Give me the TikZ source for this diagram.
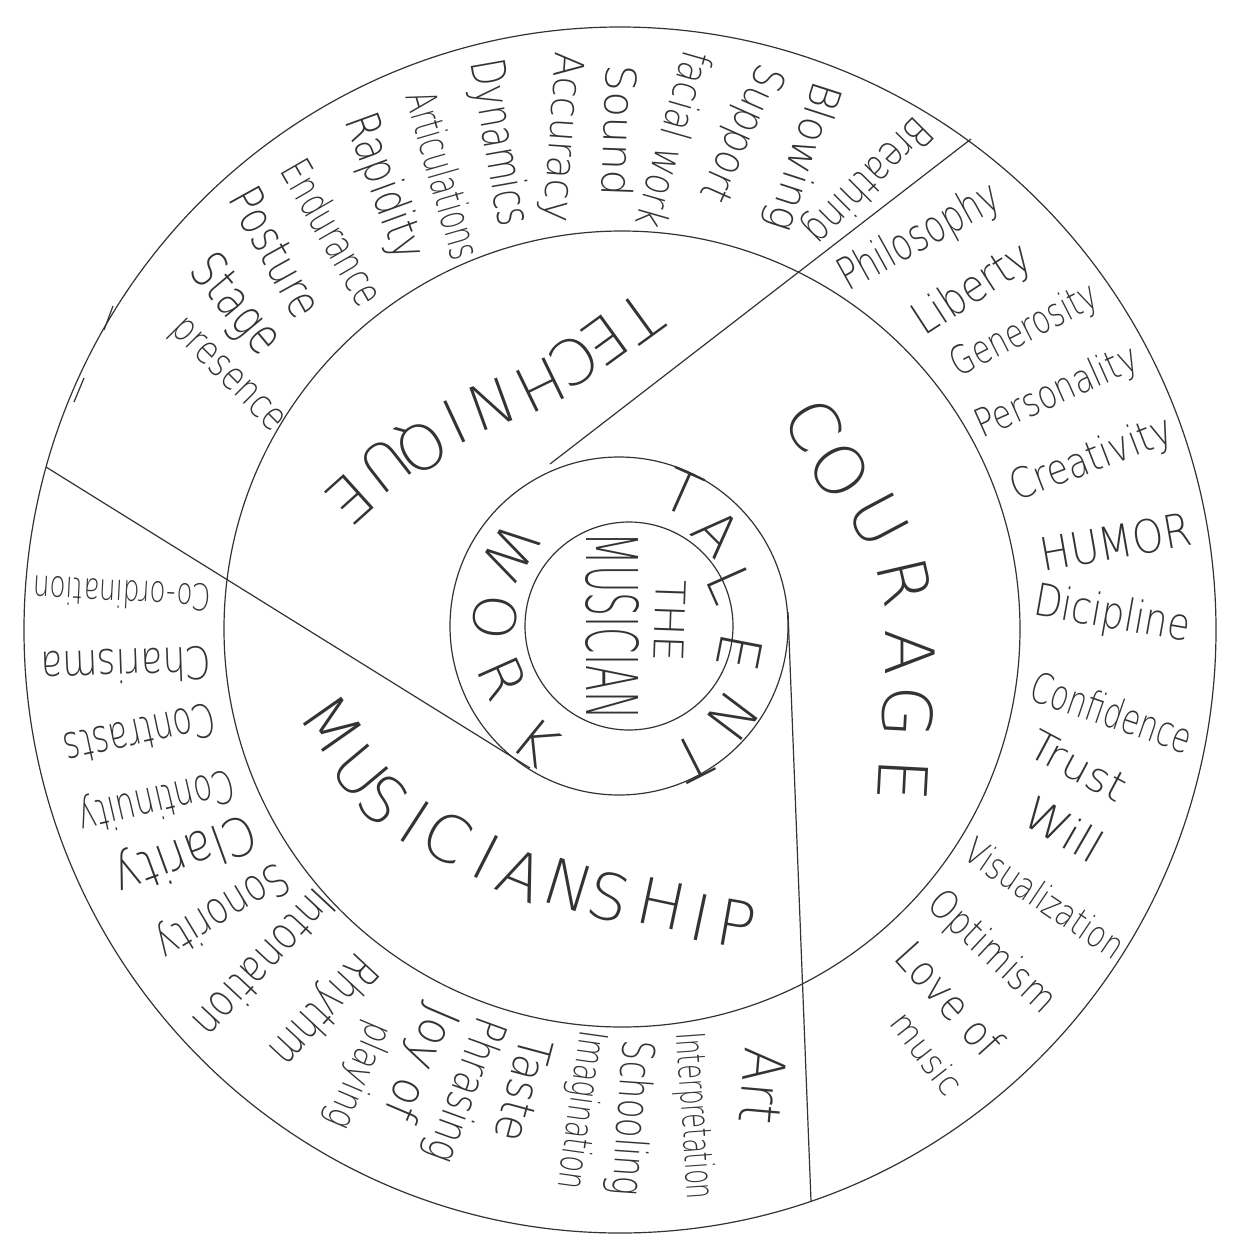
\documentclass[tikz,border=0pt]{standalone}
\usepackage{fontspec}
\usepackage{graphicx}
\newfontfamily\handfont{DejaVu Sans ExtraLight}
\colorlet{ink}{black!80}
% a word stretched to its drawn length and height (in px)
\newcommand{\hw}[3][32]{\resizebox{#2pt}{#1pt}{\handfont #3}}

\begin{document}
\begin{tikzpicture}[x=1pt, y=-1pt, line width=1.2pt, color=ink,
    word/.style={inner sep=0pt},
    cap/.style={inner sep=0pt, font=\handfont\fontsize{#1}{#1}\selectfont}]
\useasboundingbox (0,0) rectangle (1238,1251);
\fill[white] (0,0) rectangle (1238,1251);

% rings
\draw (620,630) ellipse [x radius=596pt, y radius=603pt];
\draw (622,629) circle [radius=398pt];
\draw (619,626) circle [radius=169pt];
\draw (629,626) circle [radius=104pt];

% dividers
\coordinate (techA) at (971,139);
\coordinate (techB) at (550,464);
\coordinate (musA) at (46,467);
\coordinate (musB) at (530,768);
\coordinate (courA) at (788,612);
\coordinate (courB) at (811,1201);
\draw (techA) -- (techB);
\draw (musA) -- (musB);
\draw (courA) -- (courB);
\draw (104,330) -- (113,306);
\draw (74,402) -- (84,378);

% centre
\node[cap=41, rotate=-92] (the) at (670,621) {THE};
\node[word, rotate=-90] (musician) at (612,626) {\resizebox{187pt}{53pt}{\handfont MUSICIAN}};

\node[cap=58, rotate=-24] (talT) at (682,492) {T};
\node[cap=58, rotate=-45] (talA) at (717,533) {A};
\node[cap=58, rotate=-66] (talL) at (730,585) {L};
\node[cap=58, rotate=-101] (talE) at (740,653) {E};
\node[cap=58, rotate=-127] (talN) at (732,718) {N};
\node[cap=58, rotate=-153] (talT2) at (692,758) {T};

\node[cap=58, rotate=-122] (wrkW) at (510,553) {W};
\node[cap=58, rotate=-96] (wrkO) at (495,617) {O};
\node[cap=58, rotate=-66] (wrkR) at (503,678) {R};
\node[cap=58, rotate=-39] (wrkK) at (537,742) {K};

% middle ring
\node[cap=62, rotate=216] (tecT) at (640,318) {T};
\node[cap=62, rotate=216] (tecE) at (605,340) {E};
\node[cap=62, rotate=214] (tecC) at (575,360) {C};
\node[cap=62, rotate=206] (tecH) at (540,385) {H};
\node[cap=62, rotate=200] (tecN) at (490,405) {N};
\node[cap=62, rotate=205] (tecI) at (455,422) {I};
\node[cap=62, rotate=212] (tecQ) at (420,445) {Q};
\node[cap=62, rotate=218] (tecU) at (385,465) {U};
\node[cap=62, rotate=222] (tecE2) at (350,499) {E};

\node[cap=68, rotate=-60] (couC) at (814,425) {C};
\node[cap=68, rotate=-57] (couO) at (840,470) {O};
\node[cap=68, rotate=-62] (couU) at (879,520) {U};
\node[cap=68, rotate=-77] (couR) at (905,582) {R};
\node[cap=68, rotate=-90] (couA) at (910,653) {A};
\node[cap=68, rotate=-93] (couG) at (908,712) {G};
\node[cap=68, rotate=-93] (couE) at (903,780) {E};

\node[cap=64, rotate=-55] (musM) at (332,725) {M};
\node[cap=64, rotate=-50] (musU) at (360,772) {U};
\node[cap=64, rotate=-42] (musS) at (383,800) {S};
\node[cap=64, rotate=-33] (musI) at (415,822) {I};
\node[cap=64, rotate=-28] (musC) at (447,837) {C};
\node[cap=64, rotate=-27] (musI2) at (486,857) {I};
\node[cap=64, rotate=-22] (musA) at (522,875) {A};
\node[cap=64, rotate=-17] (musN) at (569,885) {N};
\node[cap=64, rotate=-14] (musS2) at (609,897) {S};
\node[cap=64, rotate=-12] (musH) at (662,904) {H};
\node[cap=64, rotate=-12] (musI3) at (701,918) {I};
\node[cap=64, rotate=-10] (musP) at (737,924) {P};

% outer ring, technique
\node[word, rotate=-135] (breathing) at (867,179) {\hw{160}{Breathing}};
\node[word, rotate=-108] (blowing) at (802,156) {\hw{154}{Blowing}};
\node[word, rotate=-114] (support) at (740,133) {\hw{146}{Support}};
\node[word, rotate=-106] (facial) at (675,140) {\hw{181}{facial work}};
\node[word, rotate=-92] (sound) at (620,131) {\hw{132}{Sound}};
\node[word, rotate=-94] (accuracy) at (561,137) {\hw[30]{170}{Accuracy}};
\node[word, rotate=-80] (dynamics) at (498,143) {\hw[36]{168}{Dynamics}};
\node[word, rotate=-74] (articulations) at (444,175) {\hw{173}{Articulations}};
\node[word, rotate=-70] (rapidity) at (383,187) {\hw[36]{152}{Rapidity}};
\node[word, rotate=-60] (endurance) at (333,232) {\hw{160}{Endurance}};
\node[word, rotate=-61] (posture) at (276,252) {\hw[34]{140}{Posture}};
\node[word, rotate=-50] (stage) at (234,306) {\hw[38]{113}{Stage}};
\node[word, rotate=-45] (presence) at (226,377) {\hw[22]{146}{presence}};

% outer ring, courage
\node[word, rotate=29] (philosophy) at (920,238) {\hw[34]{178}{Philosophy}};
\node[word, rotate=33] (liberty) at (973,290) {\hw[34]{132}{Liberty}};
\node[word, rotate=27] (generosity) at (1025,331) {\hw[30]{160}{Generosity}};
\node[word, rotate=24] (personality) at (1057,393) {\hw[30]{174}{Personality}};
\node[word, rotate=21] (creativity) at (1092,460) {\hw{170}{Creativity}};
\node[word, rotate=10] (humor) at (1116,542) {\hw[34]{153}{HUMOR}};
\node[word, rotate=-10] (dicipline) at (1112,616) {\hw[34]{158}{Dicipline}};
\node[word, rotate=-19] (confidence) at (1112,712) {\hw[32]{168}{Confidence}};
\node[word, rotate=-28] (trust) at (1078,766) {\hw[30]{104}{Trust}};
\node[word, rotate=-30] (will) at (1064,829) {\hw[34]{84}{Will}};
\node[word, rotate=-34] (visualization) at (1045,898) {\hw[28]{184}{Visualization}};
\node[word, rotate=-43] (optimism) at (991,953) {\hw[30]{160}{Optimism}};
\node[word, rotate=-48] (loveof) at (950,999) {\hw[32]{136}{Love of}};
\node[word, rotate=-52] (music) at (927,1053) {\hw[26]{94}{music}};

% outer ring, musicianship
\node[word, rotate=-95] (art) at (763,1086) {\hw[42]{76}{Art}};
\node[word, rotate=-86] (interpretation) at (693,1116) {\hw[30]{167}{Interpretation}};
\node[word, rotate=-94] (schooling) at (630,1118) {\hw[34]{155}{Schooling}};
\node[word, rotate=-98] (imagination) at (580,1110) {\hw[30]{160}{Imagination}};
\node[word, rotate=-105] (taste) at (524,1090) {\hw[34]{106}{Taste}};
\node[word, rotate=-110] (phrasing) at (464,1090) {\hw[34]{151}{Phrasing}};
\node[word, rotate=-113] (joyof) at (419,1063) {\hw[36]{120}{Joy of}};
\node[word, rotate=-113] (playing) at (358,1075) {\hw[30]{112}{playing}};
\node[word, rotate=-133] (rhythm) at (322,1009) {\hw[36]{134}{Rhythm}};
\node[word, rotate=-133] (intonation) at (265,964) {\hw[34]{185}{Intonation}};
\node[word, rotate=-149] (sonority) at (221,910) {\hw[34]{147}{Sonority}};
\node[word, rotate=-160] (clarity) at (184,853) {\hw[40]{148}{Clarity}};
\node[word, rotate=-167] (continuity) at (156,800) {\hw[34]{158}{Continuity}};
\node[word, rotate=-168] (contrasts) at (140,735) {\hw[34]{153}{Contrasts}};
\node[word, rotate=182] (charisma) at (126,666) {\hw[34]{171}{Charisma}};
\node[word, rotate=177] (coordination) at (122,594) {\hw[28]{178}{Co-ordination}};
\end{tikzpicture}
\end{document}
